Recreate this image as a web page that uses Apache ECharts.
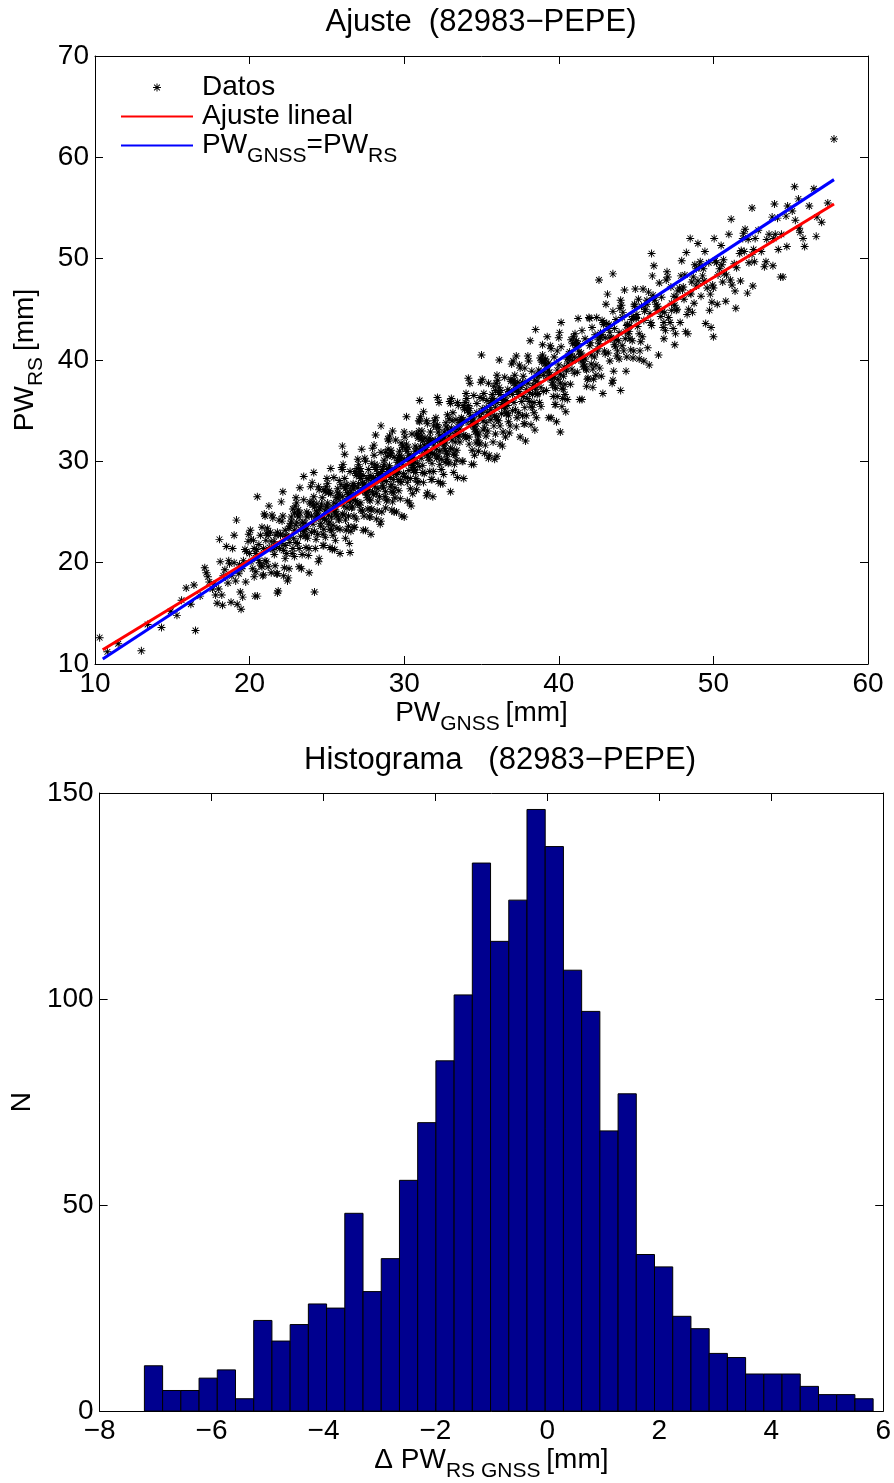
<!DOCTYPE html>
<html><head><meta charset="utf-8">
<script src="https://cdn.jsdelivr.net/npm/echarts@6/dist/echarts.min.js"></script>
<style>html,body{margin:0;padding:0;background:#fff}#c{width:894px;height:1483px}</style>
</head><body><div id="c"></div>
<script>
// ---------------- data ----------------
const titleTop = 'Ajuste  (82983\u2212PEPE)';
const titleBottom = 'Histograma   (82983\u2212PEPE)';
const legendNames = ['Datos', 'Ajuste lineal', 'PW_GNSS=PW_RS'];

const xTicksTop = [10, 20, 30, 40, 50, 60];
const yTicksTop = [10, 20, 30, 40, 50, 60, 70];
const xTicksHist = [-8, -6, -4, -2, 0, 2, 4, 6];
const yTicksHist = [0, 50, 100, 150];

// fitted line (Ajuste lineal) and identity line endpoints [GNSS, RS]
const fitLine = [[10.5, 11.4], [57.8, 55.4]];
const identityLine = [[10.5, 10.5], [57.8, 57.8]];

// scatter points [PW_GNSS, PW_RS]
const datosA = [[10.3,12.6],[10.8,11.2],[11.5,12.0],[13.0,11.3],[13.4,13.9],[14.3,13.6],[14.9,15.2],[15.3,14.8],[15.6,16.3],[15.9,17.5],[16.2,15.9],[16.5,13.3],[16.4,17.8],[16.8,16.7],
[17.4,18.1],[17.8,16.8],[17.1,19.5],[17.6,17.4],[17.3,18.6],[17.9,16.0],[17.2,19.0],[17.7,17.9],
[18.5,21.6],[18.0,17.4],[18.4,19.3],[18.8,16.1],[18.1,20.1],[18.6,18.0],[18.3,18.7],[18.9,21.4],[18.2,16.8],[18.7,19.9],
[19.5,19.4],[19.0,22.7],[19.4,17.1],[19.8,21.1],[19.1,18.2],[19.6,20.2],[19.3,18.9],[19.9,22.1],[19.2,15.9],[19.7,21.3],[19.5,19.7],[19.0,20.0],
[20.4,19.1],[20.8,23.5],[20.1,20.1],[20.6,21.8],[20.3,18.6],[20.9,21.4],[20.2,19.4],[20.7,22.7],[20.5,16.7],[20.0,20.9],[20.4,20.9],[20.8,19.6],[20.1,22.3],[20.6,20.2],[20.3,21.4],[20.9,18.8],
[21.2,22.7],[21.7,21.6],[21.5,24.4],[21.0,20.2],[21.4,22.1],[21.8,18.9],[21.1,22.9],[21.6,20.8],[21.3,21.5],[21.9,24.2],[21.2,19.6],[21.7,22.7],[21.5,21.3],[21.0,24.6],[21.4,19.0],[21.8,23.0],[21.1,20.1],[21.6,22.1],
[22.3,21.7],[22.9,24.9],[22.2,18.7],[22.7,24.1],[22.5,22.5],[22.0,22.8],[22.4,20.9],[22.8,25.3],[22.1,21.9],[22.6,23.6],[22.3,20.4],[22.9,23.2],[22.2,21.2],[22.7,24.5],[22.5,18.5],[22.0,22.7],[22.4,22.6],[22.8,21.4],[22.1,24.1],[22.6,22.0],[22.3,23.2],[22.9,20.6],
[23.2,24.5],[23.7,23.4],[23.5,26.2],[23.0,22.0],[23.4,23.9],[23.8,20.7],[23.1,24.7],[23.6,22.6],[23.3,23.3],[23.9,26.0],[23.2,21.4],[23.7,24.5],[23.5,23.1],[23.0,26.4],[23.4,20.8],[23.8,24.8],[23.1,21.9],[23.6,23.9],[23.3,22.6],[23.9,25.8],[23.2,19.6],[23.7,25.0],[23.5,23.4],[23.0,23.7],
[24.4,22.8],[24.8,27.2],[24.1,23.8],[24.6,25.5],[24.3,22.3],[24.9,25.1],[24.2,23.1],[24.7,26.4],[24.5,20.4],[24.0,24.6],[24.4,24.6],[24.8,23.3],[24.1,26.0],[24.6,23.9],[24.3,25.1],[24.9,22.5],[24.2,25.5],[24.7,24.4],[24.5,27.2],[24.0,23.0],[24.4,24.9],[24.8,21.7],[24.1,25.7],[24.6,23.6],[24.3,24.3],[24.9,27.0]];

const datosB = [[25.2,23.3],[25.7,26.4],[25.5,25.0],[25.0,28.3],[25.4,22.7],[25.8,26.7],[25.1,23.8],[25.6,25.8],[25.3,24.5],[25.9,27.7],[25.2,21.5],[25.7,26.9],[25.5,25.3],[25.0,25.6],[25.4,23.7],[25.8,28.1],[25.1,24.7],[25.6,26.4],[25.3,23.2],[25.9,26.0],[25.2,24.0],[25.7,27.3],[25.5,21.3],[25.0,25.5],[25.4,25.5],[25.8,24.2],[25.1,26.9],[25.6,24.8],
[26.3,26.9],[26.9,24.3],[26.2,27.3],[26.7,26.2],[26.5,29.0],[26.0,24.8],[26.4,26.7],[26.8,23.5],[26.1,27.5],[26.6,25.4],[26.3,26.1],[26.9,28.8],[26.2,24.2],[26.7,27.3],[26.5,25.9],[26.0,29.2],[26.4,23.6],[26.8,27.6],[26.1,24.7],[26.6,26.7],[26.3,25.4],[26.9,28.6],[26.2,22.4],[26.7,27.8],[26.5,26.2],[26.0,26.5],[26.4,24.6],[26.8,29.0],[26.1,25.6],
[27.6,28.3],[27.3,25.1],[27.9,27.9],[27.2,25.9],[27.7,29.2],[27.5,23.2],[27.0,27.4],[27.4,27.4],[27.8,26.1],[27.1,28.8],[27.6,26.7],[27.3,27.9],[27.9,25.3],[27.2,28.3],[27.7,27.2],[27.5,30.0],[27.0,25.8],[27.4,27.7],[27.8,24.5],[27.1,28.5],[27.6,26.4],[27.3,27.1],[27.9,29.8],[27.2,25.2],[27.7,28.3],[27.5,26.9],[27.0,30.2],[27.4,24.6],[27.8,28.6],[27.1,25.7],
[28.6,28.6],[28.3,27.3],[28.9,30.5],[28.2,24.3],[28.7,29.7],[28.5,28.1],[28.0,28.4],[28.4,26.5],[28.8,30.9],[28.1,27.5],[28.6,29.2],[28.3,26.0],[28.9,28.8],[28.2,26.8],[28.7,30.1],[28.5,24.1],[28.0,28.3],[28.4,28.3],[28.8,27.0],[28.1,29.7],[28.6,27.6],[28.3,28.8],[28.9,26.2],[28.2,29.2],[28.7,28.1],[28.5,30.9],[28.0,26.7],[28.4,28.6],[28.8,25.4],[28.1,29.4],
[29.6,28.2],[29.3,28.9],[29.9,31.6],[29.2,27.0],[29.7,30.1],[29.5,28.7],[29.0,32.0],[29.4,26.4],[29.8,30.4],[29.1,27.5],[29.6,29.5],[29.3,28.2],[29.9,31.4],[29.2,25.2],[29.7,30.6],[29.5,29.0],[29.0,29.3],[29.4,27.4],[29.8,31.8],[29.1,28.4],[29.6,30.1],[29.3,26.9],[29.9,29.7],[29.2,27.7],[29.7,31.0],[29.5,25.0],[29.0,29.2],[29.4,29.2],[29.8,27.9],[29.1,30.6],
[30.6,29.4],[30.3,30.6],[30.9,28.0],[30.2,31.0],[30.7,29.9],[30.5,32.7],[30.0,28.5],[30.4,30.4],[30.8,27.2],[30.1,31.2],[30.6,29.1],[30.3,29.8],[30.9,32.5],[30.2,27.9],[30.7,31.0],[30.5,29.6],[30.0,32.9],[30.4,27.3],[30.8,31.3],[30.1,28.4],[30.6,30.4],[30.3,29.1],[30.9,32.3],[30.2,26.1],[30.7,31.5],[30.5,29.9],[30.0,30.2],[30.4,28.3],[30.8,32.7],
[31.1,30.3],[31.6,32.0],[31.3,28.8],[31.9,31.6],[31.2,29.6],[31.7,32.9],[31.5,26.9],[31.0,31.1],[31.4,31.1],[31.8,29.8],[31.1,32.5],[31.6,30.4],[31.3,31.6],[31.9,29.0],[31.2,32.0],[31.7,30.9],[31.5,33.7],[31.0,29.5],[31.4,31.4],[31.8,28.2],[31.1,32.2],[31.6,30.1],[31.3,30.8],[31.9,33.5],[31.2,28.9],[31.7,32.0],[31.5,30.6],[31.0,33.9],
[32.4,29.2],[32.8,33.2],[32.1,30.3],[32.6,32.3],[32.3,31.0],[32.9,34.2],[32.2,28.0],[32.7,33.4],[32.5,31.8],[32.0,32.1],[32.4,30.2],[32.8,34.6],[32.1,31.2],[32.6,32.9],[32.3,29.7],[32.9,32.5],[32.2,30.5],[32.7,33.8],[32.5,27.8],[32.0,32.0],[32.4,32.0],[32.8,30.7],[32.1,33.4],[32.6,31.3],[32.3,32.5],[32.9,29.9],[32.2,32.9],[32.7,31.8],
[33.5,35.5],[33.0,31.3],[33.4,33.2],[33.8,30.0],[33.1,34.0],[33.6,31.9],[33.3,32.6],[33.9,35.3],[33.2,30.7],[33.7,33.8],[33.5,32.4],[33.0,35.7],[33.4,30.1],[33.8,34.1],[33.1,31.2],[33.6,33.2],[33.3,31.9],[33.9,35.1],[33.2,28.9],[33.7,34.3],[33.5,32.7],[33.0,33.0],[33.4,31.1],[33.8,35.5],[33.1,32.1],[33.6,33.8],[33.3,30.6],
[34.9,34.4],[34.2,32.4],[34.7,35.7],[34.5,29.7],[34.0,33.9],[34.4,33.9],[34.8,32.6],[34.1,35.3],[34.6,33.2],[34.3,34.4],[34.9,31.8],[34.2,34.8],[34.7,33.7],[34.5,36.5],[34.0,32.3],[34.4,34.2],[34.8,31.0],[34.1,35.0],[34.6,32.9],[34.3,33.6],[34.9,36.3],[34.2,31.7],[34.7,34.8],[34.5,33.4],[34.0,36.7],[34.4,31.1]];

const datosC = [[35.8,36.0],[35.1,33.1],[35.6,35.1],[35.3,33.8],[35.9,37.0],[35.2,30.8],[35.7,36.2],[35.5,34.6],[35.0,34.9],[35.4,33.0],[35.8,37.4],[35.1,34.0],[35.6,35.7],[35.3,32.5],[35.9,35.3],[35.2,33.3],[35.7,36.6],[35.5,30.6],[35.0,34.8],[35.4,34.8],[35.8,33.5],[35.1,36.2],[35.6,34.1],[35.3,35.3],[35.9,32.7],
[36.2,36.6],[36.7,35.5],[36.5,38.3],[36.0,34.1],[36.4,36.0],[36.8,32.8],[36.1,36.8],[36.6,34.7],[36.3,35.4],[36.9,38.1],[36.2,33.5],[36.7,36.6],[36.5,35.2],[36.0,38.5],[36.4,32.9],[36.8,36.9],[36.1,34.0],[36.6,36.0],[36.3,34.7],[36.9,37.9],[36.2,31.7],[36.7,37.1],[36.5,35.5],[36.0,35.8],
[37.4,34.8],[37.8,39.2],[37.1,35.8],[37.6,37.5],[37.3,34.3],[37.9,37.1],[37.2,35.1],[37.7,38.4],[37.5,32.4],[37.0,36.6],[37.4,36.6],[37.8,35.3],[37.1,38.0],[37.6,35.9],[37.3,37.1],[37.9,34.5],[37.2,37.5],[37.7,36.4],[37.5,39.2],[37.0,35.0],[37.4,36.9],[37.8,33.7],[37.1,37.7],
[38.6,36.6],[38.3,37.3],[38.9,40.0],[38.2,35.4],[38.7,38.5],[38.5,37.1],[38.0,40.4],[38.4,34.8],[38.8,38.8],[38.1,35.9],[38.6,37.9],[38.3,36.6],[38.9,39.8],[38.2,33.6],[38.7,39.0],[38.5,37.4],[38.0,37.7],[38.4,35.8],[38.8,40.2],[38.1,36.8],[38.6,38.5],[38.3,35.3],
[39.9,39.0],[39.2,37.0],[39.7,40.3],[39.5,34.3],[39.0,38.5],[39.4,38.5],[39.8,37.2],[39.1,39.9],[39.6,37.8],[39.3,39.0],[39.9,36.4],[39.2,39.4],[39.7,38.3],[39.5,41.1],[39.0,36.9],[39.4,38.8],[39.8,35.6],[39.1,39.6],[39.6,37.5],[39.3,38.2],[39.9,40.9],
[40.2,37.2],[40.7,40.3],[40.5,38.9],[40.0,42.2],[40.4,36.6],[40.8,40.6],[40.1,37.7],[40.6,39.7],[40.3,38.4],[40.9,41.6],[40.2,35.4],[40.7,40.8],[40.5,39.2],[40.0,39.5],[40.4,37.6],[40.8,42.0],[40.1,38.6],[40.6,40.3],[40.3,37.1],[40.9,39.9],
[41.2,38.8],[41.7,42.1],[41.5,36.1],[41.0,40.3],[41.4,40.3],[41.8,39.0],[41.1,41.7],[41.6,39.6],[41.3,40.8],[41.9,38.2],[41.2,41.2],[41.7,40.1],[41.5,42.9],[41.0,38.7],[41.4,40.6],[41.8,37.4],[41.1,41.4],[41.6,39.3],[41.3,40.0],
[42.9,43.7],[42.2,39.1],[42.7,42.2],[42.5,40.8],[42.0,44.1],[42.4,38.5],[42.8,42.5],[42.1,39.6],[42.6,41.6],[42.3,40.3],[42.9,43.5],[42.2,37.3],[42.7,42.7],[42.5,41.1],[42.0,41.4],[42.4,39.5],[42.8,43.9],[42.1,40.5],
[43.6,43.1],[43.3,39.9],[43.9,42.7],[43.2,40.7],[43.7,44.0],[43.5,38.0],[43.0,42.2],[43.4,42.2],[43.8,40.9],[43.1,43.6],[43.6,41.5],[43.3,42.7],[43.9,40.1],[43.2,43.1],[43.7,42.0],[43.5,44.8],[43.0,40.6],
[44.4,43.4],[44.8,40.2],[44.1,44.2],[44.6,42.1],[44.3,42.8],[44.9,45.5],[44.2,40.9],[44.7,44.0],[44.5,42.6],[44.0,45.9],[44.4,40.3],[44.8,44.3],[44.1,41.4],[44.6,43.4],[44.3,42.1],[44.9,45.3],
[45.2,40.1],[45.7,45.5],[45.5,43.9],[45.0,44.2],[45.4,42.3],[45.8,46.7],[45.1,43.3],[45.6,45.0],[45.3,41.8],[45.9,44.6],[45.2,42.6],[45.7,45.9],[45.5,39.9],[45.0,44.1],
[46.4,45.0],[46.8,43.7],[46.1,46.4],[46.6,44.3],[46.3,45.5],[46.9,42.9],[46.2,45.9],[46.7,44.8],[46.5,47.6],[46.0,43.4],[46.4,45.3],[46.8,42.1],[46.1,46.1],
[47.6,44.9],[47.3,45.6],[47.9,48.3],[47.2,43.7],[47.7,46.8],[47.5,45.4],[47.0,48.7],[47.4,43.1],[47.8,47.1],[47.1,44.2],[47.6,46.2],[47.3,44.9],
[48.9,49.0],[48.2,42.8],[48.7,48.2],[48.5,46.6],[48.0,46.9],[48.4,45.0],[48.8,49.4],[48.1,46.0],[48.6,47.7],[48.3,44.5],[48.9,47.3],
[49.2,46.3],[49.7,49.6],[49.5,43.6],[49.0,47.8],[49.4,47.8],[49.8,46.5],[49.1,49.2],[49.6,47.1],[49.3,48.3],[49.9,45.7],
[50.2,49.6],[50.7,48.5],[50.5,51.3],[50.0,47.1],[50.4,49.0],[50.8,45.8],[50.1,49.8],[50.6,47.7],[50.3,48.4],
[51.9,52.0],[51.2,47.4],[51.7,50.5],[51.5,49.1],[51.0,52.4],[51.4,46.8],[51.8,50.8],[51.1,47.9],
[52.6,50.9],[52.3,49.6],[52.9,52.8],[52.2,46.6],[52.7,52.0],[52.5,50.4],[52.0,50.7],
[53.4,49.7],[53.8,54.1],[53.1,50.7],[53.6,52.4],[53.3,49.2],[53.9,52.0],
[54.2,50.9],[54.7,54.2],[54.5,48.2],[54.0,52.4],[54.4,52.4],
[55.8,52.0],[55.1,54.7],[55.6,52.6],[55.3,53.8],[55.9,51.2],
[56.2,55.2],[56.7,54.1],[56.5,56.9],[57.0,53.6],[57.4,55.5]];

const datosD = [[18.25,15.8],[18.65,20.2],[18.05,22.3],[18.85,18.7],
[19.45,15.4],[19.95,22.8],[19.35,19.8],[19.75,18.1],[19.15,24.2],[19.55,16.6],
[20.25,22.2],[20.65,20.0],[20.05,23.2],[20.85,18.7],[20.45,21.3],[20.95,24.8],[20.35,16.7],[20.75,19.7],
[21.15,23.4],[21.55,21.5],[21.25,25.6],[21.65,19.7],[21.05,22.2],[21.85,17.2],[21.45,24.7],[21.95,21.4],[21.35,23.0],[21.75,18.9],
[22.15,24.6],[22.55,23.4],[22.25,19.5],[22.65,23.9],[22.05,26.0],[22.85,22.4],[22.45,18.2],[22.95,25.6],[22.35,22.6],[22.75,20.9],[22.15,27.0],[22.55,19.4],
[23.25,24.9],[23.65,22.7],[23.05,25.9],[23.85,21.4],[23.45,24.0],[23.95,27.5],[23.35,19.4],[23.75,22.4],[23.15,25.2],[23.55,23.3],[23.25,27.4],[23.65,21.5],[23.05,24.0],[23.85,19.0],
[24.45,27.5],[24.95,24.2],[24.35,25.8],[24.75,21.7],[24.15,26.5],[24.55,25.3],[24.25,21.4],[24.65,25.8],[24.05,27.9],[24.85,24.3],[24.45,20.1],[24.95,27.5],[24.35,24.5],[24.75,22.8],[24.15,28.9],
[25.55,22.2],[25.25,26.8],[25.65,24.6],[25.05,27.8],[25.85,23.3],[25.45,25.9],[25.95,29.4],[25.35,21.3],[25.75,24.3],[25.15,27.1],[25.55,25.2],[25.25,29.3],[25.65,23.4],[25.05,25.9],[25.85,20.9],[25.45,28.4],
[26.95,26.0],[26.35,27.6],[26.75,23.5],[26.15,28.3],[26.55,27.1],[26.25,23.2],[26.65,27.6],[26.05,29.7],[26.85,26.1],[26.45,21.9],[26.95,29.3],[26.35,26.3],[26.75,24.6],[26.15,30.7],[26.55,23.1],[26.25,27.7],[26.65,25.5],
[27.05,29.7],[27.85,25.2],[27.45,27.8],[27.95,31.3],[27.35,23.2],[27.75,26.2],[27.15,29.0],[27.55,27.1],[27.25,31.2],[27.65,25.3],[27.05,27.8],[27.85,22.8],[27.45,30.3],[27.95,27.0],[27.35,28.6],[27.75,24.5],[27.15,29.3],
[28.55,29.0],[28.25,25.1],[28.65,29.5],[28.05,31.6],[28.85,28.0],[28.45,23.8],[28.95,31.2],[28.35,28.2],[28.75,26.5],[28.15,32.6],[28.55,25.0],[28.25,29.6],[28.65,27.4],[28.05,30.6],[28.85,26.1],[28.45,28.7],[28.95,32.2],
[29.35,25.0],[29.75,28.0],[29.15,30.8],[29.55,28.9],[29.25,33.0],[29.65,27.1],[29.05,29.6],[29.85,24.6],[29.45,32.1],[29.95,28.8],[29.35,30.4],[29.75,26.3],[29.15,31.1],[29.55,29.9],[29.25,26.0],[29.65,30.4],[29.05,32.5],
[30.85,29.8],[30.45,25.6],[30.95,33.0],[30.35,30.0],[30.75,28.3],[30.15,34.4],[30.55,26.8],[30.25,31.4],[30.65,29.2],[30.05,32.4],[30.85,27.9],[30.45,30.5],[30.95,34.0],[30.35,25.9],[30.75,28.9],[30.15,31.7],[30.55,29.8],
[31.25,34.9],[31.65,29.0],[31.05,31.5],[31.85,26.5],[31.45,34.0],[31.95,30.7],[31.35,32.3],[31.75,28.2],[31.15,33.0],[31.55,31.8],[31.25,27.9],[31.65,32.3],[31.05,34.4],[31.85,30.8],[31.45,26.6],[31.95,34.0],
[32.35,31.9],[32.75,30.2],[32.15,36.3],[32.55,28.7],[32.25,33.3],[32.65,31.1],[32.05,34.3],[32.85,29.8],[32.45,32.4],[32.95,35.9],[32.35,27.8],[32.75,30.8],[32.15,33.6],[32.55,31.7],[32.25,35.8],[32.65,29.9],
[33.05,33.3],[33.85,28.3],[33.45,35.8],[33.95,32.5],[33.35,34.1],[33.75,30.0],[33.15,34.8],[33.55,33.6],[33.25,29.7],[33.65,34.1],[33.05,36.2],[33.85,32.6],[33.45,28.4],[33.95,35.8],[33.35,32.8],
[34.75,32.1],[34.15,38.2],[34.55,30.6],[34.25,35.2],[34.65,33.0],[34.05,36.2],[34.85,31.7],[34.45,34.3],[34.95,37.8],[34.35,29.7],[34.75,32.7],[34.15,35.5],[34.55,33.6],[34.25,37.7],[34.65,31.8],
[35.05,35.2],[35.85,30.2],[35.45,37.7],[35.95,34.4],[35.35,36.0],[35.75,31.9],[35.15,36.7],[35.55,35.5],[35.25,31.6],[35.65,36.0],[35.05,38.1],[35.85,34.5],[35.45,30.3],[35.95,37.7],
[36.35,35.6],[36.75,33.9],[36.15,40.0],[36.55,32.4],[36.25,37.0],[36.65,34.8],[36.05,38.0],[36.85,33.5],[36.45,36.1],[36.95,39.6],[36.35,31.5],[36.75,34.5],[36.15,37.3],[36.55,35.4],
[37.25,40.4],[37.65,34.5],[37.05,37.0],[37.85,32.0],[37.45,39.5],[37.95,36.2],[37.35,37.8],[37.75,33.7],[37.15,38.5],[37.55,37.3],[37.25,33.4],[37.65,37.8],[37.05,39.9],
[38.85,37.3],[38.45,33.1],[38.95,40.5],[38.35,37.5],[38.75,35.8],[38.15,41.9],[38.55,34.3],[38.25,38.9],[38.65,36.7],[38.05,39.9],[38.85,35.4],[38.45,38.0],[38.95,41.5],
[39.35,34.3],[39.75,37.3],[39.15,40.1],[39.55,38.2],[39.25,42.3],[39.65,36.4],[39.05,38.9],[39.85,33.9],[39.45,41.4],[39.95,38.1],[39.35,39.7],[39.75,35.6],
[40.15,41.3],[40.55,40.1],[40.25,36.2],[40.65,40.6],[40.05,42.7],[40.85,39.1],[40.45,34.9],[40.95,42.3],[40.35,39.3],[40.75,37.6],[40.15,43.7],[40.55,36.1],
[41.25,41.6],[41.65,39.4],[41.05,42.6],[41.85,38.1],[41.45,40.7],[41.95,44.2],[41.35,36.1],[41.75,39.1],[41.15,41.9],[41.55,40.0],[41.25,44.1],
[42.65,39.2],[42.05,41.7],[42.85,36.7],[42.45,44.2],[42.95,40.9],[42.35,42.5],[42.75,38.4],[42.15,43.2],[42.55,42.0],[42.25,38.1],[42.65,42.5],
[43.05,45.5],[43.85,41.9],[43.45,37.7],[43.95,45.1],[43.35,42.1],[43.75,40.4],[43.15,46.5],[43.55,38.9],[43.25,43.5],[43.65,41.3],
[44.05,45.4],[44.85,40.9],[44.45,43.5],[44.95,47.0],[44.35,38.9],[44.75,41.9],[44.15,44.7],[44.55,42.8],[44.25,46.9],[44.65,41.0],
[45.05,44.5],[45.85,39.5],[45.45,47.0],[45.95,43.7],[45.35,45.3],[45.75,41.2],[45.15,46.0],[45.55,44.8],[45.25,40.9],
[46.65,46.2],[46.05,48.3],[46.85,44.7],[46.45,40.5],[46.95,47.9],[46.35,44.9],[46.75,43.2],[46.15,49.3],
[47.55,42.6],[47.25,47.2],[47.65,45.0],[47.05,48.2],[47.85,43.7],[47.45,46.3],[47.95,49.8],
[48.35,42.6],[48.75,45.6],[48.15,48.4],[48.55,46.5],[48.25,50.6],[48.65,44.7],[48.05,47.2],
[49.85,43.2],[49.45,50.7],[49.95,47.4],[49.35,49.0],[49.75,44.9],[49.15,49.7],
[50.55,49.4],[50.25,45.5],[50.65,49.9],[50.05,52.0],[50.85,48.4],
[51.45,45.1],[51.95,52.5],[51.35,49.5],[51.75,47.8],[51.15,53.9],
[52.55,47.3],[52.25,51.9],[52.65,49.7],[52.05,52.9],
[53.85,49.3],[53.45,51.9],[53.95,55.4],
[54.35,48.2],[54.75,51.2],[54.15,54.0],
[55.55,53.0],[55.25,57.1],[56.65,52.2]];

const datosExtra = [[57.8,61.8],[55.5,55.9],[54.8,55.2],[20.5,26.5],[23.5,28.5],[26.0,31.5],[31.0,36.0],[35.0,40.5],[43.5,48.5],[46.0,50.5],[48.5,52.0],[44.0,37.0],[47.5,41.5],[33.0,27.0],[30.0,24.5],[26.5,21.0],[24.2,17.1],[21.8,17.0],[40.1,32.9],[42.6,47.9],[50.0,42.3],[38.5,43.0],[28.5,33.5],[36.0,30.5],[52.5,55.0],[49.0,51.5]];

// histogram of PW_RS - PW_GNSS, 40 bins between histMin and histMax
const histMin = -7.2;
const histMax = 5.82;
const histCounts = [11,5,5,8,10,3,22,17,21,26,25,48,29,37,56,70,85,101,133,114,124,146,137,107,97,68,77,38,35,23,20,14,13,9,9,9,6,4,4,3];

// ---------------- chart ----------------
const FONT = '"Liberation Sans", Arial, Helvetica, sans-serif';
const FS = 28;
const RICH = {
  m: {fontSize: FS, fontFamily: FONT, color: '#000', lineHeight: 29, verticalAlign: 'top'},
  s: {fontSize: 21, fontFamily: FONT, color: '#000', lineHeight: 22, verticalAlign: 'top', padding: [15, 0, 0, 0]}
};
const minus = v => (v < 0 ? '\u2212' + Math.abs(v) : String(v));
const richName = n => n.split(/(_[A-Z ]+)/).filter(Boolean).map(p => p[0] === '_' ? '{s|' + p.slice(1) + '}' : '{m|' + p + '}').join('');

const datos = datosA.concat(datosB, datosC, datosD, datosExtra);
const binW = (histMax - histMin) / histCounts.length;
const histData = histCounts.map((n, i) => [histMin + i * binW, histMin + (i + 1) * binW, n]);

function axis(ticks, extra) {
  return Object.assign({
    type: 'value', min: ticks[0], max: ticks[ticks.length - 1], interval: ticks[1] - ticks[0],
    axisLine: {show: true, onZero: false, lineStyle: {color: '#000', width: 1}},
    axisTick: {show: true, inside: true, length: 8, lineStyle: {color: '#000', width: 1}},
    splitLine: {show: false},
    axisLabel: {show: true, color: '#000', fontFamily: FONT, fontSize: 28, formatter: minus, margin: 6},
    nameTextStyle: {rich: RICH, fontFamily: FONT, fontSize: FS, color: '#000'}
  }, extra);
}
const hide = {axisLabel: {show: false}};

const chart = echarts.init(document.getElementById('c'), null, {renderer: 'canvas'});
chart.setOption({
  backgroundColor: '#fff',
  animation: false,
  graphic: [
    {type: 'text', x: 481, y: 22, style: {text: titleTop, font: '31px ' + FONT, fill: '#000', textAlign: 'center', textVerticalAlign: 'middle'}},
    {type: 'text', x: 500, y: 760, style: {text: titleBottom, font: '31px ' + FONT, fill: '#000', textAlign: 'center', textVerticalAlign: 'middle'}}
  ],
  grid: [
    {left: 95, top: 56, width: 773, height: 608, containLabel: false},
    {left: 98, top: 793, width: 787, height: 620, containLabel: false}
  ],
  legend: {
    orient: 'vertical', left: 120, top: 73, padding: 0, itemWidth: 72, itemHeight: 8, itemGap: 1,
    data: [
      {name: legendNames[0]},
      {name: legendNames[1], itemStyle: {opacity: 0}},
      {name: legendNames[2], itemStyle: {opacity: 0}}
    ],
    formatter: n => richName(n),
    textStyle: {rich: RICH, fontFamily: FONT, fontSize: FS, color: '#000', padding: [0, 0, 0, 4]}
  },
  xAxis: [
    axis(xTicksTop, {gridIndex: 0, position: 'bottom', name: richName('PW_GNSS [mm]'), nameLocation: 'middle', nameGap: 30}),
    axis(xTicksTop, Object.assign({gridIndex: 0, position: 'top'}, hide)),
    axis(xTicksHist, {gridIndex: 1, position: 'bottom', name: richName('\u0394 PW_RS GNSS [mm]'), nameLocation: 'middle', nameGap: 32}),
    axis(xTicksHist, Object.assign({gridIndex: 1, position: 'top'}, hide))
  ],
  yAxis: [
    axis(yTicksTop, {gridIndex: 0, position: 'left', name: richName('PW_RS [mm]'), nameLocation: 'middle', nameGap: 53}),
    axis(yTicksTop, Object.assign({gridIndex: 0, position: 'right'}, hide)),
    axis(yTicksHist, {gridIndex: 1, position: 'left', name: richName('N'), nameLocation: 'middle', nameGap: 58}),
    axis(yTicksHist, Object.assign({gridIndex: 1, position: 'right'}, hide))
  ],
  series: [
    {
      name: 'Datos', type: 'scatter', xAxisIndex: 0, yAxisIndex: 0, data: datos,
      symbol: 'path://M4.4,0h1.2v10h-1.2z M0,4.4h10v1.2h-10z M1,1.8L1.8,1L9,8.2L8.2,9Z M8.2,1L9,1.8L1.8,9L1,8.2Z',
      symbolSize: 8, itemStyle: {color: '#000', opacity: 1}, emphasis: {disabled: true}
    },
    {
      name: 'Ajuste lineal', type: 'line', xAxisIndex: 0, yAxisIndex: 0, data: fitLine,
      symbol: 'none', showSymbol: false, lineStyle: {color: '#ff0000', width: 3}, itemStyle: {color: '#ff0000'}
    },
    {
      name: 'PW_GNSS=PW_RS', type: 'line', xAxisIndex: 0, yAxisIndex: 0, data: identityLine,
      symbol: 'none', showSymbol: false, lineStyle: {color: '#0000ff', width: 3}, itemStyle: {color: '#0000ff'}
    },
    {
      name: 'hist', type: 'custom', xAxisIndex: 2, yAxisIndex: 2, data: histData,
      encode: {x: [0, 1], y: 2},
      renderItem: (params, api) => {
        const p0 = api.coord([api.value(0), api.value(2)]);
        const p1 = api.coord([api.value(1), 0]);
        return {type: 'rect', shape: {x: p0[0], y: p0[1], width: p1[0] - p0[0], height: p1[1] - p0[1]},
          style: {fill: '#00008f', stroke: '#000', lineWidth: 1}};
      }
    }
  ]
});
</script></body></html>
